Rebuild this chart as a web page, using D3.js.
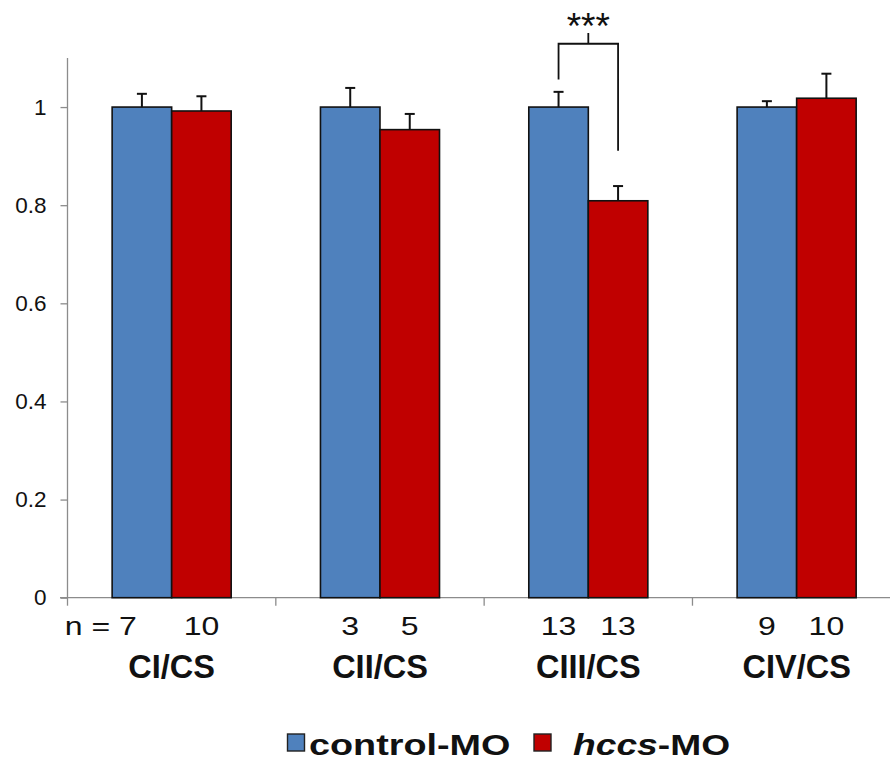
<!DOCTYPE html>
<html lang="en">
<head>
<meta charset="utf-8">
<style>
body {
  margin: 0;
  background: #fff;
  font-family: Arial, 'Liberation Sans', sans-serif;
}
.bar {
  stroke: #111;    /* bar outline */
  stroke-width: 1.6;
}
.err {
  stroke: #111;
  stroke-width: 2;
}
.axis path, .axis line {
  stroke: #8c8c8c;
  stroke-width: 1.3;
}
</style>
<title>CI-CIV / CS</title>
<script src="https://cdn.jsdelivr.net/npm/d3@7"></script>
</head>
<body>
<div id="chart"></div>
<script>

// data
var categories = ["CI/CS", "CII/CS", "CIII/CS", "CIV/CS"];
var series = ["control-MO", "hccs-MO"];
var controlValues = [1.0, 1.0, 1.0, 1.0];
var controlErrors = [0.027, 0.039, 0.031, 0.012];
var hccsValues = [0.992, 0.954, 0.809, 1.018];
var hccsErrors = [0.030, 0.032, 0.030, 0.050];
var controlN = [7, 3, 13, 9];
var hccsN = [10, 5, 13, 10];
var yTicks = [0, 0.2, 0.4, 0.6, 0.8, 1];
var colors = ["#4F81BD", "#C00000"];

var w = 890,
    h = 762;

var svg = d3.select("#chart")
            .append("svg")
            .attr("width", w)
            .attr("height", h);

// the source picture is a bit wider than tall, so some text is stretched
function stretch(sel, sx){
  sel.attr("transform", function(){
       var tx = +this.getAttribute("x"), ty = +this.getAttribute("y");
       return "translate(" + tx + "," + ty + ") scale(" + sx + ",1)";
     })
     .attr("x", 0)
     .attr("y", 0);
}

var y = d3.scaleLinear()
          .domain([0, 1.1])
          .range([597.7, 58]);

var x = d3.scaleBand()
          .domain(categories)
          .range([67.5, 900.8])
          .padding(0);

// Excel style clustering, gap width 150%
var bw = x.bandwidth() / 3.5;
var sub = d3.scaleBand()
            .domain(series)
            .range([x.bandwidth() / 2 - bw, x.bandwidth() / 2 + bw]);

// y axis
var yAxis = d3.axisLeft(y)
              .tickValues(yTicks)
              .tickSize(7)
              .tickPadding(14)
              .tickFormat(function(d){ return String(+d.toFixed(1)); });

var gy = svg.append("g")
            .attr("class", "axis")
            .attr("transform", "translate(67.5,0)")
            .call(yAxis);
gy.select(".domain").attr("d", "M0," + y(1.1) + "V" + y(0));
gy.selectAll("text")
  .style("font-size", "22.5px")
  .style("font-family", "Arial, 'Liberation Sans', sans-serif")
  .attr("fill", "#111");

// x axis line with ticks between the groups
var gx = svg.append("g").attr("class", "axis");
gx.append("line")
  .attr("x1", 60).attr("x2", w)
  .attr("y1", y(0)).attr("y2", y(0));
gx.selectAll(".xtick")
  .data(categories)
  .enter()
  .append("line")
  .attr("class", "xtick")
  .attr("x1", function(d){ return x(d); })
  .attr("x2", function(d){ return x(d); })
  .attr("y1", y(0))
  .attr("y2", y(0) + 8);

// bars
var rows = categories.map(function(c, i){
  return [
    {cat: c, s: series[0], v: controlValues[i], e: controlErrors[i], n: controlN[i], col: colors[0]},
    {cat: c, s: series[1], v: hccsValues[i], e: hccsErrors[i], n: hccsN[i], col: colors[1]}
  ];
});
var flat = [].concat.apply([], rows);

function cx(d){ return x(d.cat) + sub(d.s) + sub.bandwidth() / 2; }

svg.selectAll(".bar")
   .data(flat)
   .enter()
   .append("rect")
   .attr("class", "bar")
   .attr("x", function(d){ return x(d.cat) + sub(d.s); })
   .attr("y", function(d){ return y(d.v); })
   .attr("width", sub.bandwidth())
   .attr("height", function(d){ return y(0) - y(d.v); })
   .attr("fill", function(d){ return d.col; });

// error bars (upper only)
svg.selectAll(".errv")
   .data(flat)
   .enter()
   .append("line")
   .attr("class", "err")
   .attr("x1", cx).attr("x2", cx)
   .attr("y1", function(d){ return y(d.v); })
   .attr("y2", function(d){ return y(d.v + d.e); });
svg.selectAll(".errc")
   .data(flat)
   .enter()
   .append("line")
   .attr("class", "err")
   .attr("x1", function(d){ return cx(d) - 5; })
   .attr("x2", function(d){ return cx(d) + 5; })
   .attr("y1", function(d){ return y(d.v + d.e); })
   .attr("y2", function(d){ return y(d.v + d.e); });

// n labels, the first one carries the "n =" prefix
var nlab = svg.selectAll(".nlab")
   .data(flat)
   .enter()
   .append("text")
   .attr("class", "nlab")
   .attr("x", function(d, i){ return i === 0 ? cx(d) - 5 : cx(d); })
   .attr("y", 635)
   .attr("text-anchor", function(d, i){ return i === 0 ? "end" : "middle"; })
   .style("font-size", "25.6px")
   .attr("fill", "#111")
   .text(function(d, i){ return i === 0 ? "n = " + d.n : d.n; });
stretch(nlab, 1.25);

// category labels
svg.selectAll(".clab")
   .data(categories)
   .enter()
   .append("text")
   .attr("x", function(d){ return x(d) + x.bandwidth() / 2; })
   .attr("y", 677.5)
   .attr("text-anchor", "middle")
   .style("font-size", "32.5px")
   .style("font-weight", "bold")
   .attr("fill", "#111")
   .text(function(d){ return d; });

// significance bracket on CIII
var c3 = rows[2];
var xl = cx(c3[0]), xr = cx(c3[1]), xm = (xl + xr) / 2;
svg.append("path")
   .attr("d", "M" + xl + "," + y(1.056) + "V" + y(1.129) + "H" + xr + "V" + y(0.911)
            + "M" + xm + "," + y(1.129) + "V" + y(1.151))
   .attr("fill", "none")
   .attr("stroke", "#111")
   .attr("stroke-width", 1.8);
svg.append("text")
   .attr("x", xm)
   .attr("y", y(1.151) + 6)
   .attr("text-anchor", "middle")
   .style("font-size", "37px")
   .attr("fill", "#111")
   .text("***");

// legend
var lg = svg.append("g");
lg.append("rect")
  .attr("x", 287.5).attr("y", 734)
  .attr("width", 17).attr("height", 17)
  .attr("fill", colors[0])
  .attr("stroke", "#222").attr("stroke-width", 1.4);
var t1 = lg.append("text")
  .attr("x", 309).attr("y", 755)
  .style("font-size", "30px").style("font-weight", "bold")
  .attr("fill", "#111")
  .text("control-MO");
stretch(t1, 1.26);
lg.append("rect")
  .attr("x", 534).attr("y", 734)
  .attr("width", 17).attr("height", 17)
  .attr("fill", colors[1])
  .attr("stroke", "#222").attr("stroke-width", 1.4);
var t2 = lg.append("text")
  .attr("x", 573).attr("y", 755)
  .style("font-size", "30px").style("font-weight", "bold")
  .attr("fill", "#111");
t2.append("tspan").style("font-style", "italic").text("hccs");
t2.append("tspan").text("-MO");
stretch(t2, 1.24);

</script>
</body>
</html>
